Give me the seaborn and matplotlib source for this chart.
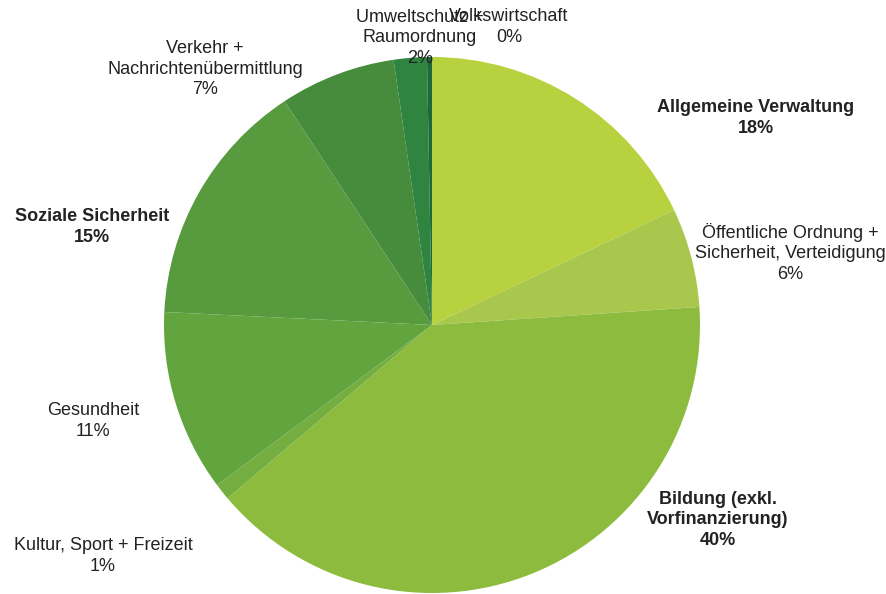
import matplotlib
matplotlib.use("Agg")
import matplotlib.pyplot as plt
import seaborn as sns

# ---------- data (clockwise from 12 o'clock) ----------
categories = [
    "Allgemeine Verwaltung",
    "Öffentliche Ordnung +\nSicherheit, Verteidigung",
    "Bildung (exkl.\nVorfinanzierung)",
    "Kultur, Sport + Freizeit",
    "Gesundheit",
    "Soziale Sicherheit",
    "Verkehr +\nNachrichtenübermittlung",
    "Umweltschutz +\nRaumordnung",
    "Volkswirtschaft",
]
shares = [18, 6, 40, 1, 11, 15, 7, 2, 0.3]
bold = [True, False, True, False, False, True, False, False, False]

colors = ["#b7d23e", "#a9c74c", "#8dbb3e", "#74ae40", "#62a53f",
          "#589b3f", "#478b3c", "#2f8440", "#1d6a38"]

# label block centres in pixel coords (x, y from top)
label_pos = [(756, 118), (790, 253), (718, 520), (103, 556), (93, 421),
             (92, 227), (205, 69), (420, 38), (509, 27)]

W, H = 887, 594
CX, CY, R = 432, 325, 268

sns.set_style("white")
plt.rcParams["font.family"] = ["Liberation Sans", "DejaVu Sans"]

fig = plt.figure(figsize=(W / 100, H / 100), dpi=100)
ax = fig.add_axes([0, 0, 1, 1])

ax.pie(shares, colors=colors, startangle=90, counterclock=False,
       radius=R, center=(CX, H - CY),
       wedgeprops=dict(linewidth=0))

total = sum(shares)
for name, v, b, (x, y) in zip(categories, shares, bold, label_pos):
    ax.text(x, H - y, f"{name}\n{round(v / total * 100):.0f}%",
            ha="center", va="center", multialignment="center",
            fontsize=13, linespacing=1.3, color="#222222",
            fontweight="bold" if b else "normal")

ax.set_xlim(0, W)
ax.set_ylim(0, H)
ax.set_aspect("equal")
ax.axis("off")

fig.savefig("out.png", dpi=100, facecolor="white")
